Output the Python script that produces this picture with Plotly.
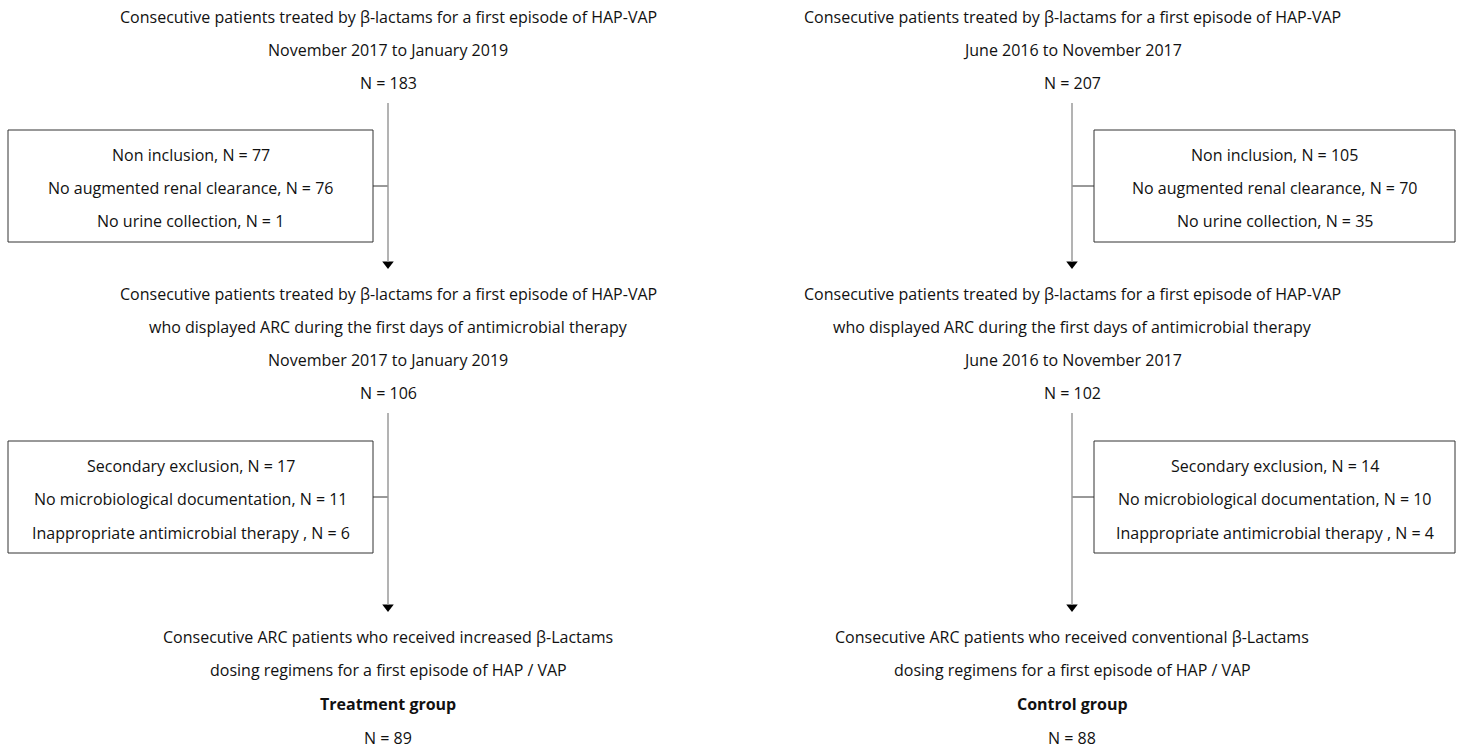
import plotly.graph_objects as go

# Flow chart data
left_header = ["Consecutive patients treated by β-lactams for a first episode of HAP-VAP",
               "November 2017 to January 2019"]
right_header = ["Consecutive patients treated by β-lactams for a first episode of HAP-VAP",
                "June 2016 to November 2017"]
n_start = [183, 207]

left_excl1 = ["Non inclusion", "No augmented renal clearance", "No urine collection"]
excl1_n = [[77, 76, 1], [105, 70, 35]]

mid_lines = ["Consecutive patients treated by β-lactams for a first episode of HAP-VAP",
             "who displayed ARC during the first days of antimicrobial therapy"]
periods = ["November 2017 to January 2019", "June 2016 to November 2017"]
n_mid = [106, 102]

excl2 = ["Secondary exclusion", "No microbiological documentation", "Inappropriate antimicrobial therapy "]
excl2_n = [[17, 11, 6], [14, 10, 4]]

final_lines = [["Consecutive ARC patients who received increased β-Lactams",
                "dosing regimens for a first episode of HAP / VAP"],
               ["Consecutive ARC patients who received conventional β-Lactams",
                "dosing regimens for a first episode of HAP / VAP"]]
groups = ["Treatment group", "Control group"]
n_final = [89, 88]

W, H = 1460, 751
FONT = dict(family="Open Sans, sans-serif", size=16, color="#111111")
LINE_COL = "#9a9a9a"

fig = go.Figure()
shapes = []
annots = []


def txt(x, y, s, bold=False):
    annots.append(dict(x=x, y=y, xref="x", yref="y", text=f"<b>{s}</b>" if bold else s,
                       showarrow=False, font=FONT, xanchor="center", yanchor="middle"))


cols = [388, 1072]
boxes = [(8, 373), (1094, 1455)]
for i in range(2):
    cx = cols[i]
    # top block
    header = left_header if i == 0 else right_header
    txt(cx, 17, header[0])
    txt(cx, 50, header[1])
    txt(cx, 83, f"N = {n_start[i]}")
    # first exclusion box
    bx0, bx1 = boxes[i]
    shapes.append(dict(type="rect", x0=bx0, x1=bx1, y0=130, y1=242, xref="x", yref="y",
                       line=dict(color="#333333", width=1)))
    for j, yy in enumerate([155, 188, 221]):
        txt((bx0 + bx1) / 2, yy, f"{left_excl1[j]}, N = {excl1_n[i][j]}")
    conn_x = bx1 if i == 0 else bx0
    shapes.append(dict(type="line", x0=conn_x, x1=cx, y0=186, y1=186, xref="x", yref="y",
                       line=dict(color="#333333", width=1)))
    shapes.append(dict(type="line", x0=cx, x1=cx, y0=103, y1=262, xref="x", yref="y",
                       line=dict(color=LINE_COL, width=1.5)))
    # middle block
    txt(cx, 294, mid_lines[0])
    txt(cx, 327, mid_lines[1])
    txt(cx, 360, periods[i])
    txt(cx, 393, f"N = {n_mid[i]}")
    # second exclusion box
    shapes.append(dict(type="rect", x0=bx0, x1=bx1, y0=441, y1=553, xref="x", yref="y",
                       line=dict(color="#333333", width=1)))
    for j, yy in enumerate([466, 499, 533]):
        txt((bx0 + bx1) / 2, yy, f"{excl2[j]}, N = {excl2_n[i][j]}")
    shapes.append(dict(type="line", x0=conn_x, x1=cx, y0=497, y1=497, xref="x", yref="y",
                       line=dict(color="#333333", width=1)))
    shapes.append(dict(type="line", x0=cx, x1=cx, y0=413, y1=605, xref="x", yref="y",
                       line=dict(color=LINE_COL, width=1.5)))
    # final block
    txt(cx, 637, final_lines[i][0])
    txt(cx, 670, final_lines[i][1])
    txt(cx, 704, groups[i], bold=True)
    txt(cx, 738, f"N = {n_final[i]}")

# arrow heads
fig.add_trace(go.Scatter(x=[cols[0], cols[0], cols[1], cols[1]], y=[264, 607, 264, 607],
                         mode="markers", hoverinfo="skip",
                         marker=dict(symbol="triangle-down", size=10, color="black")))

fig.update_layout(width=W, height=H, margin=dict(l=0, r=0, t=0, b=0),
                  plot_bgcolor="white", paper_bgcolor="white", showlegend=False,
                  shapes=shapes, annotations=annots,
                  xaxis=dict(range=[0, W], visible=False, fixedrange=True),
                  yaxis=dict(range=[H, 0], visible=False, fixedrange=True))
# drop the default page margin so the figure fills the window
fig.write_html("out.html", config={"displayModeBar": False},
               post_script="document.body.style.margin='0';document.body.style.overflow='hidden';")
